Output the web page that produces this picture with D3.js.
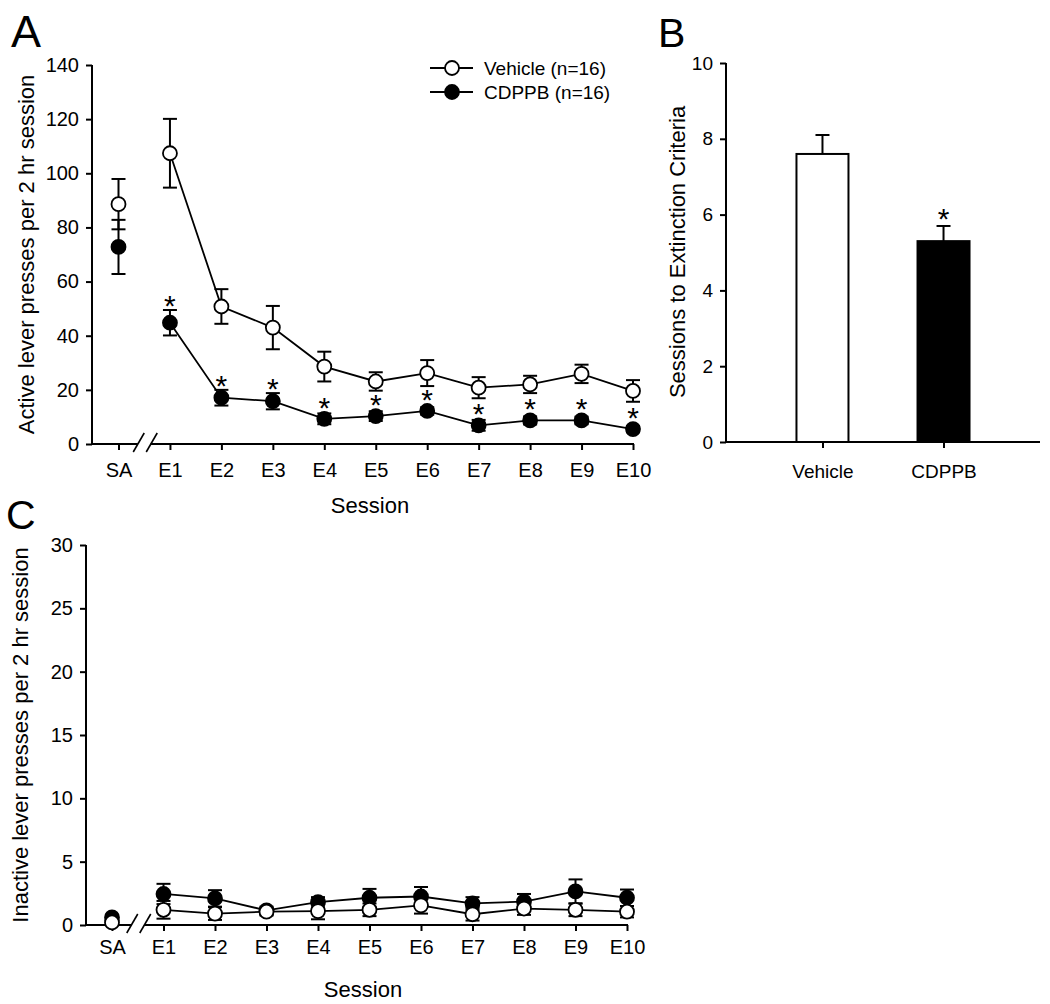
<!DOCTYPE html>
<html>
<head>
<meta charset="utf-8">
<script src="https://cdn.jsdelivr.net/npm/d3@7"></script>
<style>
  body { margin: 0; background: #fff; }
  svg text { font-family: "Liberation Sans", Arial, sans-serif; fill: #000; }
</style>
</head>
<body>
<div class="fig"></div>
<script>

// sessions on the x axis (SA, then extinction days)
var sessions = ["SA", "E1", "E2", "E3", "E4", "E5", "E6", "E7", "E8", "E9", "E10"];

// panel A - active lever presses
var activeVehicle    = [88.6, 107.4, 50.8, 43.0, 28.6, 23.1, 26.2, 20.8, 22.0, 25.9, 19.6];
var activeVehicleErr = [9.3, 12.7, 6.4, 8.0, 5.5, 3.4, 4.8, 3.9, 3.2, 3.4, 4.0];
var activeCdppb      = [72.8, 44.8, 17.1, 15.8, 9.3, 10.3, 12.2, 6.9, 8.7, 8.7, 5.5];
var activeCdppbErr   = [10.0, 4.7, 2.9, 3.0, 2.0, 1.8, 1.4, 2.0, 1.5, 1.4, 1.2];
var activeStars      = [false, true, true, true, true, true, true, true, true, true, true];
var activeTicks      = [0, 20, 40, 60, 80, 100, 120, 140];

// panel B - sessions to extinction criteria
var groups      = ["Vehicle", "CDPPB"];
var sessToExt    = [7.6, 5.3];
var sessToExtErr = [0.5, 0.4];
var sessTicks    = [0, 2, 4, 6, 8, 10];

// panel C - inactive lever presses
var inactiveVehicle    = [0.2, 1.2, 0.9, 1.05, 1.1, 1.2, 1.55, 0.85, 1.3, 1.2, 1.05];
var inactiveVehicleErr = [0.2, 0.7, 0.5, 0.3, 0.65, 0.5, 0.65, 0.5, 0.5, 0.5, 0.45];
var inactiveCdppb      = [0.6, 2.45, 2.1, 1.15, 1.8, 2.15, 2.25, 1.7, 1.85, 2.65, 2.15];
var inactiveCdppbErr   = [0.2, 0.8, 0.65, 0.3, 0.4, 0.7, 0.75, 0.5, 0.6, 0.95, 0.65];
var inactiveTicks      = [0, 5, 10, 15, 20, 25, 30];

var W = 1050, H = 1004;
var svg = d3.select(".fig").append("svg").attr("width", W).attr("height", H);

function styleAxis(g, size){
  g.select(".domain").remove();
  g.selectAll(".tick line").attr("stroke", "#000").attr("stroke-width", 2);
  g.selectAll(".tick text").attr("font-size", size).attr("fill", "#000");
}

function panelLabel(txt, x, y, size){
  svg.append("text").attr("x", x).attr("y", y).attr("font-size", size).text(txt);
}

function drawSessionPanel(cfg){
  var x = d3.scaleLinear().domain([0, sessions.length - 1]).range([cfg.x0, cfg.x1]);
  var y = d3.scaleLinear().domain(cfg.yDomain).range([cfg.yBottom, cfg.yTop]);
  var g = svg.append("g");

  // y axis
  var ya = g.append("g").attr("transform", "translate(" + cfg.axisX + ",0)")
    .call(d3.axisLeft(y).tickValues(cfg.ticks).tickSize(6).tickSizeOuter(0).tickPadding(7));
  styleAxis(ya, 20);
  g.append("line").attr("x1", cfg.axisX).attr("x2", cfg.axisX)
    .attr("y1", y(cfg.yDomain[0]) + 1).attr("y2", y(cfg.yDomain[1]))
    .attr("stroke", "#000").attr("stroke-width", 2);

  // x axis with a break between SA and E1
  var xa = g.append("g").attr("transform", "translate(0," + cfg.yBottom + ")")
    .call(d3.axisBottom(x).tickValues(d3.range(sessions.length))
      .tickFormat(function(i){ return sessions[i]; })
      .tickSize(6).tickSizeOuter(0).tickPadding(cfg.xPad));
  styleAxis(xa, 20);
  var mid = (x(0) + x(1)) / 2;
  var c1 = mid - 6.5, c2 = mid + 6.5;
  g.append("line").attr("x1", cfg.axisX).attr("x2", c1)
    .attr("y1", cfg.yBottom).attr("y2", cfg.yBottom).attr("stroke", "#000").attr("stroke-width", 2);
  g.append("line").attr("x1", c2).attr("x2", x(sessions.length - 1) + 1)
    .attr("y1", cfg.yBottom).attr("y2", cfg.yBottom).attr("stroke", "#000").attr("stroke-width", 2);
  [c1, c2].forEach(function(c){
    g.append("line").attr("x1", c - 4.5).attr("y1", cfg.yBottom + 8)
      .attr("x2", c + 6.5).attr("y2", cfg.yBottom - 11)
      .attr("stroke", "#000").attr("stroke-width", 1.6);
  });

  // axis titles
  g.append("text").attr("transform", "translate(" + cfg.yTitleX + "," + ((cfg.yTop + cfg.yBottom) / 2) + ") rotate(-90)")
    .attr("text-anchor", "middle").attr("font-size", 22).text(cfg.yTitle);
  g.append("text").attr("x", cfg.xTitleX).attr("y", cfg.xTitleY)
    .attr("text-anchor", "middle").attr("font-size", 22).text("Session");

  var line = d3.line().x(function(d){ return x(d.i); }).y(function(d){ return y(d.v); });

  cfg.series.forEach(function(s){
    var pts = s.values.map(function(v, i){ return {i: i, v: v, e: s.errs[i]}; });
    var sg = g.append("g");

    // error bars
    pts.forEach(function(p){
      sg.append("line").attr("x1", x(p.i)).attr("x2", x(p.i))
        .attr("y1", y(p.v - p.e)).attr("y2", y(p.v + p.e)).attr("stroke", "#000").attr("stroke-width", 2);
      [p.v - p.e, p.v + p.e].forEach(function(t){
        sg.append("line").attr("x1", x(p.i) - 7).attr("x2", x(p.i) + 7)
          .attr("y1", y(t)).attr("y2", y(t)).attr("stroke", "#000").attr("stroke-width", 2);
      });
    });

    // line only across extinction sessions
    sg.append("path").datum(pts.slice(1)).attr("d", line)
      .attr("fill", "none").attr("stroke", "#000").attr("stroke-width", 1.8);

    sg.selectAll("circle").data(pts).enter().append("circle")
      .attr("cx", function(d){ return x(d.i); })
      .attr("cy", function(d){ return y(d.v); })
      .attr("r", 7).attr("fill", s.fill).attr("stroke", "#000").attr("stroke-width", 1.8);

    if (s.stars) {
      pts.forEach(function(p){
        if (!s.stars[p.i]) return;
        // star sits just above the error cap or the marker, whichever is higher
        var top = Math.min(y(p.v + p.e), y(p.v) - 7);
        sg.append("text").attr("x", x(p.i)).attr("y", top - 9 + 15)
          .attr("text-anchor", "middle").attr("font-size", 30).text("*");
      });
    }
  });

  return {x: x, y: y, g: g};
}

// ---------- panel A ----------
var A = drawSessionPanel({
  x0: 118.5, x1: 633, axisX: 92,
  yDomain: [0, 140], yBottom: 444, yTop: 65, ticks: activeTicks,
  xPad: 13, yTitle: "Active lever presses per 2 hr session", yTitleX: 34,
  xTitleX: 370, xTitleY: 513,
  series: [
    {values: activeCdppb, errs: activeCdppbErr, fill: "#000", stars: activeStars},
    {values: activeVehicle, errs: activeVehicleErr, fill: "#fff"}
  ]
});
panelLabel("A", 11, 47, 45);

// legend
var legend = svg.append("g");
[{name: "Vehicle (n=16)", fill: "#fff", y: 68}, {name: "CDPPB (n=16)", fill: "#000", y: 92}].forEach(function(l){
  legend.append("line").attr("x1", 430).attr("x2", 473).attr("y1", l.y).attr("y2", l.y)
    .attr("stroke", "#000").attr("stroke-width", 1.8);
  legend.append("circle").attr("cx", 452).attr("cy", l.y).attr("r", 7)
    .attr("fill", l.fill).attr("stroke", "#000").attr("stroke-width", 1.8);
  legend.append("text").attr("x", 484).attr("y", l.y + 7).attr("font-size", 19).text(l.name);
});

// ---------- panel B ----------
var bx = d3.scalePoint().domain(groups).range([726, 1040]).padding(0.797);
var by = d3.scaleLinear().domain([0, 10]).range([442, 63]);
var gb = svg.append("g");
var bya = gb.append("g").attr("transform", "translate(726,0)")
  .call(d3.axisLeft(by).tickValues(sessTicks).tickSize(6).tickSizeOuter(0).tickPadding(7));
styleAxis(bya, 19);
gb.append("line").attr("x1", 726).attr("x2", 726).attr("y1", 443).attr("y2", 63)
  .attr("stroke", "#000").attr("stroke-width", 2);
var bxa = gb.append("g").attr("transform", "translate(0,442)")
  .call(d3.axisBottom(bx).tickSize(6).tickSizeOuter(0).tickPadding(17));
styleAxis(bxa, 19);
gb.append("line").attr("x1", 726).attr("x2", 1040).attr("y1", 442).attr("y2", 442)
  .attr("stroke", "#000").attr("stroke-width", 2);

var barW = 52;
groups.forEach(function(name, i){
  var cx = bx(name);
  gb.append("line").attr("x1", cx).attr("x2", cx)
    .attr("y1", by(sessToExt[i])).attr("y2", by(sessToExt[i] + sessToExtErr[i]))
    .attr("stroke", "#000").attr("stroke-width", 2);
  gb.append("line").attr("x1", cx - 7).attr("x2", cx + 7)
    .attr("y1", by(sessToExt[i] + sessToExtErr[i])).attr("y2", by(sessToExt[i] + sessToExtErr[i]))
    .attr("stroke", "#000").attr("stroke-width", 2);
});
gb.selectAll("rect").data(groups).enter().append("rect")
  .attr("x", function(d){ return bx(d) - barW / 2; })
  .attr("y", function(d, i){ return by(sessToExt[i]); })
  .attr("width", barW)
  .attr("height", function(d, i){ return by(0) - by(sessToExt[i]); })
  .attr("fill", function(d, i){ return i == 0 ? "#fff" : "#000"; })
  .attr("stroke", "#000").attr("stroke-width", 2);
gb.append("text").attr("x", bx("CDPPB")).attr("y", by(sessToExt[1] + sessToExtErr[1]) + 3)
  .attr("text-anchor", "middle").attr("font-size", 30).text("*");
gb.append("text").attr("transform", "translate(685,252) rotate(-90)")
  .attr("text-anchor", "middle").attr("font-size", 22).text("Sessions to Extinction Criteria");
panelLabel("B", 658, 47, 41);

// ---------- panel C ----------
var C = drawSessionPanel({
  x0: 112, x1: 627, axisX: 86,
  yDomain: [0, 30], yBottom: 925, yTop: 545, ticks: inactiveTicks,
  xPad: 9, yTitle: "Inactive lever presses per 2 hr session", yTitleX: 28,
  xTitleX: 363, xTitleY: 997,
  series: [
    {values: inactiveCdppb, errs: inactiveCdppbErr, fill: "#000"},
    {values: inactiveVehicle, errs: inactiveVehicleErr, fill: "#fff"}
  ]
});
panelLabel("C", 6, 529, 41);

</script>
</body>
</html>
